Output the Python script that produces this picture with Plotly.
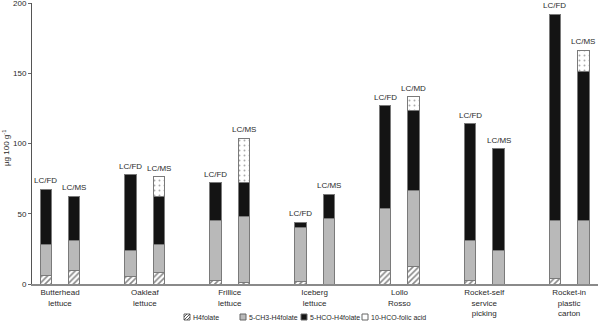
import plotly.graph_objects as go

groups = ["Butterhead<br>lettuce", "Oakleaf<br>lettuce", "Frillice<br>lettuce", "Iceberg<br>lettuce",
          "Lollo<br>Rosso", "Rocket-self<br>service<br>picking", "Rocket-in<br>plastic<br>carton"]
methods = ["LC/FD", "LC/MS", "LC/FD", "LC/MS", "LC/FD", "LC/MS", "LC/FD", "LC/MS",
           "LC/FD", "LC/MD", "LC/FD", "LC/MS", "LC/FD", "LC/MS"]
series_names = ["H4folate", "5-CH3-H4folate", "5-HCO-H4folate", "10-HCO-folic acid"]
h4folate = [6.4, 9.5, 5.7, 8.5, 2.3, 1.0, 1.6, None, 9.5, 12.8, 2.3, None, 4.0, None]
ch3_h4folate = [22.1, 21.8, 18.0, 20.0, 42.8, 46.9, 38.7, 47.0, 44.6, 54.1, 28.7, 23.9, 41.3, 45.5]
hco_h4folate = [39.1, 31.1, 54.3, 33.9, 27.0, 24.2, 3.8, 17.0, 72.8, 56.4, 83.3, 72.6, 146.9, 106.1]
hco_folic = [None, None, None, 14.0, None, 31.8, None, None, None, 10.2, None, None, None, 14.9]
y_ticks = [0, 50, 100, 150, 200]

W, H = 598, 330
ML, MR, MT, MB = 32, 0, 3, 46
PW, PH = W - ML - MR, H - MT - MB


def px_x(px):
    return (px - ML) / PW


def px_y(py):
    return (H - MB - py) / PH


offset = 0.168
bw = 0.135
xpos = []
for gi in range(len(groups)):
    xpos += [gi - offset, gi + offset]

totals = [sum(v for v in vals if v is not None)
          for vals in zip(h4folate, ch3_h4folate, hco_h4folate, hco_folic)]

TXT = "#2a2a2a"
line = dict(color="#7a7a7a", width=1)
fills = [
    dict(color="white", line=line,
         pattern=dict(shape="/", fgcolor="#111", bgcolor="white", size=4, solidity=0.4)),
    dict(color="#b9b9b9", line=line),
    dict(color="#141414", line=line),
    dict(color="white", line=line,
         pattern=dict(shape=".", fgcolor="#555", bgcolor="white", size=5, solidity=0.12)),
]

fig = go.Figure()
for name, vals, mk in zip(series_names, [h4folate, ch3_h4folate, hco_h4folate, hco_folic], fills):
    fig.add_bar(x=xpos, y=vals, name=name, width=bw, marker=mk, showlegend=False)

for x, t, m in zip(xpos, totals, methods):
    fig.add_annotation(x=x, y=t, text=m, showarrow=False, yanchor="bottom", yshift=2,
                       font=dict(size=8, color=TXT))

# y-axis title
fig.add_annotation(xref="paper", yref="paper", x=px_x(6), y=px_y(148), text="µg 100 g<sup>-1</sup>",
                   textangle=-90, showarrow=False, xanchor="center", yanchor="middle",
                   font=dict(size=8, color=TXT))

# custom legend (swatch + label)
leg_y = 317
sw = 6
swatch_left = [184, 240, 301, 362]
text_left = [190.5, 246.5, 307.5, 368.5]
sw_fill = ["white", "#b9b9b9", "#141414", "white"]
for i, name in enumerate(series_names):
    x0, x1 = swatch_left[i], swatch_left[i] + sw
    y0, y1 = leg_y - sw / 2, leg_y + sw / 2
    fig.add_shape(type="rect", xref="paper", yref="paper",
                  x0=px_x(x0), x1=px_x(x1), y0=px_y(y1), y1=px_y(y0),
                  fillcolor=sw_fill[i], line=dict(color="#666", width=1))
    if i == 0:
        for (ax, ay, bx, by) in [(x0, y0 + 3, x0 + 3, y0), (x0, y1, x1, y0), (x0 + 3, y1, x1, y0 + 3)]:
            fig.add_shape(type="line", xref="paper", yref="paper",
                          x0=px_x(ax), y0=px_y(ay), x1=px_x(bx), y1=px_y(by),
                          line=dict(color="#333", width=0.8))
    fig.add_annotation(xref="paper", yref="paper", x=px_x(text_left[i]), y=px_y(leg_y),
                       text=name, showarrow=False, xanchor="left", yanchor="middle",
                       font=dict(size=7, color=TXT))

fig.update_layout(
    barmode="stack",
    width=W, height=H,
    margin=dict(l=ML, r=MR, t=MT, b=MB, autoexpand=False),
    paper_bgcolor="white", plot_bgcolor="white",
    font=dict(family="Liberation Sans, Arial, sans-serif", size=8, color=TXT),
    showlegend=False,
    xaxis=dict(range=[-0.33, 6.34], tickvals=list(range(len(groups))), ticktext=groups,
               showline=True, linecolor="#8a8a8a", linewidth=1.5, ticks="", showgrid=False,
               zeroline=False, tickfont=dict(size=8, color=TXT), automargin=False),
    yaxis=dict(range=[0, 200.2], tickvals=y_ticks, showline=True,
               linecolor="#555", linewidth=1, ticks="outside", ticklen=3, tickcolor="#666",
               showgrid=False, zeroline=False, tickfont=dict(size=8, color=TXT), automargin=False,
               ticklabeloverflow="allow"),
)

fig.write_html("out.html", config={"displayModeBar": False},
               post_script="document.body.style.margin='0';document.body.style.overflow='hidden';")
